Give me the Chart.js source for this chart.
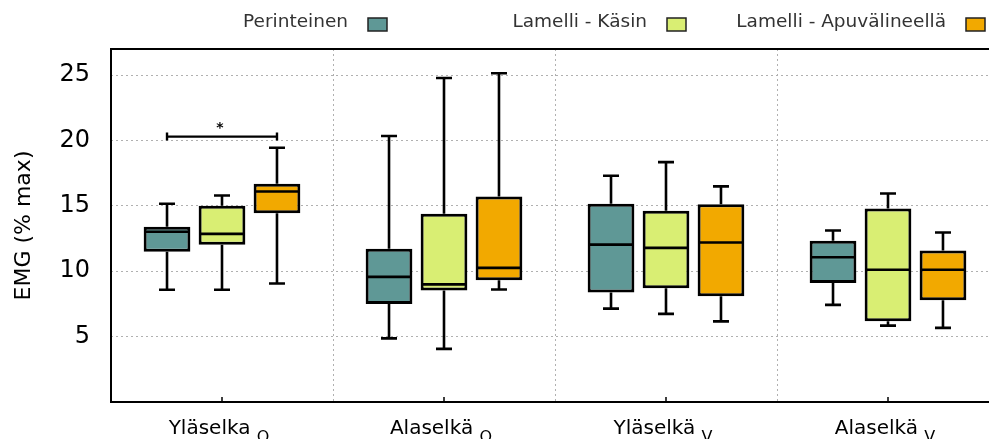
<!DOCTYPE html>
<html><head><meta charset="utf-8">
<script src="https://cdn.jsdelivr.net/npm/chart.js@4/dist/chart.umd.min.js"></script>
<style>
html,body{margin:0;padding:0;overflow:hidden;background:#fff;width:989px;height:439px}
#wrap{width:989px;height:439px;overflow:hidden;position:relative}
canvas{display:block}
</style></head><body>
<div id="wrap"><canvas id="c" width="1000" height="439"></canvas></div>
<script>
// ---- data ----
const categories = ['Yläselka', 'Alaselkä', 'Yläselkä', 'Alaselkä'];
const categorySubscripts = ['O', 'O', 'V', 'V'];
const seriesNames = ['Perinteinen', 'Lamelli - Käsin', 'Lamelli - Apuvälineellä'];
const seriesColors = ['#5f9896', '#d9ee73', '#f2a900'];
const yTicks = [5, 10, 15, 20, 25];
const yTitle = 'EMG (% max)';

const minPerinteinen = [8.58, 4.87, 7.14, 7.43];
const q1Perinteinen  = [11.49, 7.50, 8.37, 9.11];
const medPerinteinen = [13.02, 9.57, 12.04, 11.07];
const q3Perinteinen  = [13.40, 11.72, 15.16, 12.33];
const maxPerinteinen = [15.16, 20.34, 17.30, 13.12];

const minKasin = [8.58, 4.06, 6.74, 5.84];
const q1Kasin  = [12.02, 8.52, 8.70, 6.17];
const medKasin = [12.86, 9.00, 11.79, 10.11];
const q3Kasin  = [15.01, 14.40, 14.62, 14.80];
const maxKasin = [15.80, 24.78, 18.35, 15.95];

const minApu = [9.06, 8.60, 6.17, 5.67];
const q1Apu  = [14.44, 9.31, 8.09, 7.78];
const medApu = [16.10, 10.26, 12.20, 10.11];
const q3Apu  = [16.69, 15.72, 15.13, 11.58];
const maxApu = [19.45, 25.14, 16.49, 12.96];

// significance: category index, from series, to series, y value
const sigCategory = [0];
const sigFrom = [0];
const sigTo = [2];
const sigY = [20.3];
const sigLabel = ['*'];

const stats = [
  {min: minPerinteinen, q1: q1Perinteinen, med: medPerinteinen, q3: q3Perinteinen, max: maxPerinteinen},
  {min: minKasin, q1: q1Kasin, med: medKasin, q3: q3Kasin, max: maxKasin},
  {min: minApu, q1: q1Apu, med: medApu, q3: q3Apu, max: maxApu}
];

const FONT = '"DejaVu Sans", Verdana, sans-serif';

const boxPlugin = {
  id: 'boxextras',
  afterDatasetsDraw(chart) {
    const ctx = chart.ctx;
    const y = chart.scales.y;
    ctx.save();
    ctx.strokeStyle = '#000';
    ctx.lineWidth = 2.6;
    ctx.lineCap = 'butt';
    stats.forEach((s, d) => {
      const meta = chart.getDatasetMeta(d);
      meta.data.forEach((el, i) => {
        const x = el.x, w = el.width;
        const cap = 8;
        const yq1 = y.getPixelForValue(s.q1[i]);
        const yq3 = y.getPixelForValue(s.q3[i]);
        const ymed = y.getPixelForValue(s.med[i]);
        const ymin = y.getPixelForValue(s.min[i]);
        const ymax = y.getPixelForValue(s.max[i]);
        ctx.beginPath();
        ctx.moveTo(x - w / 2 + 1, ymed); ctx.lineTo(x + w / 2 - 1, ymed);
        ctx.moveTo(x, Math.min(yq3, yq1) ); ctx.lineTo(x, ymax);
        ctx.moveTo(x - cap, ymax); ctx.lineTo(x + cap, ymax);
        ctx.moveTo(x, Math.max(yq1, yq3)); ctx.lineTo(x, ymin);
        ctx.moveTo(x - cap, ymin); ctx.lineTo(x + cap, ymin);
        ctx.stroke();
      });
    });
    // significance brackets
    sigCategory.forEach((c, k) => {
      const a = chart.getDatasetMeta(sigFrom[k]).data[c].x;
      const b = chart.getDatasetMeta(sigTo[k]).data[c].x;
      const yy = y.getPixelForValue(sigY[k]);
      ctx.lineWidth = 2.4;
      ctx.beginPath();
      ctx.moveTo(a, yy); ctx.lineTo(b, yy);
      ctx.moveTo(a, yy - 4); ctx.lineTo(a, yy + 4);
      ctx.moveTo(b, yy - 4); ctx.lineTo(b, yy + 4);
      ctx.stroke();
      ctx.fillStyle = '#000';
      ctx.font = 'bold 14px ' + FONT;
      ctx.textAlign = 'center';
      ctx.textBaseline = 'middle';
      ctx.fillText(sigLabel[k], (a + b) / 2 - 2, yy - 8);
    });
    ctx.restore();
  },
  afterDraw(chart) {
    const ctx = chart.ctx;
    const ca = chart.chartArea;
    const xs = chart.scales.x;
    ctx.save();
    // frame
    ctx.strokeStyle = '#000';
    ctx.lineWidth = 2;
    ctx.strokeRect(ca.left, ca.top, ca.right - ca.left, ca.bottom - ca.top);
    // inner tick marks on x axis
    ctx.beginPath();
    categories.forEach((c, i) => {
      const px = xs.getPixelForValue(i);
      ctx.moveTo(px, ca.bottom); ctx.lineTo(px, ca.bottom - 5);
    });
    ctx.lineWidth = 1.5;
    ctx.stroke();
    // x labels with subscripts
    ctx.fillStyle = '#000';
    ctx.textBaseline = 'alphabetic';
    ctx.textAlign = 'left';
    categories.forEach((c, i) => {
      const px = xs.getPixelForValue(i);
      ctx.font = '20px ' + FONT;
      const main = c + ' ';
      const wm = ctx.measureText(main).width;
      ctx.font = '16px ' + FONT;
      const ws = ctx.measureText(categorySubscripts[i]).width;
      const x0 = px - (wm + ws) / 2 - 3;
      ctx.font = '20px ' + FONT;
      ctx.fillText(main, x0, 434);
      ctx.font = '16px ' + FONT;
      ctx.fillText(categorySubscripts[i], x0 + wm, 442);
    });
    // legend (text then box)
    const boxX = [368, 667, 966];
    ctx.font = '18.5px ' + FONT;
    ctx.textAlign = 'right';
    ctx.textBaseline = 'middle';
    seriesNames.forEach((n, i) => {
      ctx.fillStyle = '#333';
      ctx.fillText(n, boxX[i] - 20, 22);
      ctx.fillStyle = seriesColors[i];
      ctx.fillRect(boxX[i], 18, 19, 13);
      ctx.strokeStyle = '#222';
      ctx.lineWidth = 1.5;
      ctx.strokeRect(boxX[i], 18, 19, 13);
    });
    ctx.restore();
  }
};

const datasets = stats.map((s, d) => ({
  label: seriesNames[d],
  data: s.q1.map((v, i) => [v, s.q3[i]]),
  backgroundColor: seriesColors[d],
  borderColor: '#000',
  borderWidth: 3,
  borderSkipped: false,
  categoryPercentage: 0.743,
  barPercentage: 0.85
}));

new Chart(document.getElementById('c'), {
  type: 'bar',
  data: { labels: categories, datasets },
  options: {
    responsive: false,
    animation: false,
    layout: { padding: { top: 49, right: 1, left: 0, bottom: 0 } },
    plugins: { legend: { display: false }, tooltip: { enabled: false } },
    scales: {
      x: {
        offset: true,
        grid: { display: true, offset: true, color: '#b0b0b0', lineWidth: 1, drawTicks: false },
        border: { display: false, dash: [2, 3] },
        ticks: { display: false },
        afterFit(scale) { scale.height = 37; }
      },
      y: {
        min: 0, max: 27,
        afterBuildTicks(scale) { scale.ticks = yTicks.map(v => ({ value: v })); },
        grid: { color: '#b0b0b0', lineWidth: 1, drawTicks: false },
        border: { display: false, dash: [2, 3] },
        ticks: { padding: 21, color: '#000', font: { family: FONT, size: 24 } },
        title: { display: true, text: yTitle, color: '#000', font: { family: FONT, size: 22 }, padding: { top: 11, bottom: 0 } },
        afterFit(scale) { scale.width = 111; }
      }
    }
  },
  plugins: [boxPlugin]
});
</script>
</body></html>
